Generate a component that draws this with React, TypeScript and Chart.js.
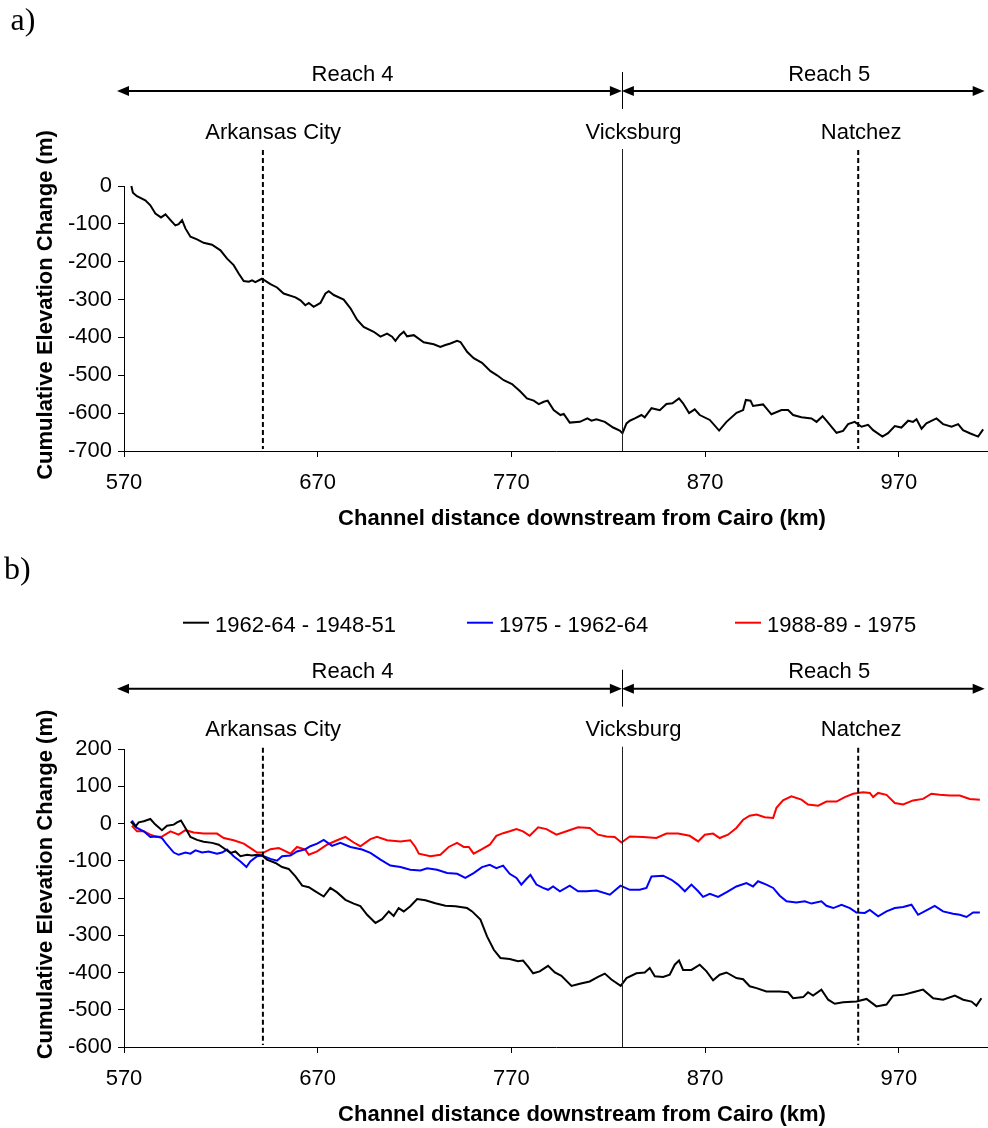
import React, { useEffect, useRef } from 'react';
import { Chart, registerables } from 'chart.js';

Chart.register(...registerables);

const SANS = "'Liberation Sans', Arial, sans-serif";
const SERIF = "'Liberation Serif', 'Times New Roman', serif";

// ---------- axes / annotations ----------
const X_TICKS = [570, 670, 770, 870, 970];
const X_MIN = 570;
const X_MAX = 1016;
const X_TITLE = 'Channel distance downstream from Cairo (km)';
const Y_TITLE = 'Cumulative Elevation Change (m)';

const TOWN_NAMES = ['Arkansas City', 'Vicksburg', 'Natchez'];
const TOWN_KM = [641.7, 827, 949];
const TOWN_LABEL_KM = [647, 833, 950.5];
const TOWN_DASHED = [true, false, true];

const REACH_NAMES = ['Reach 4', 'Reach 5'];
const REACH_BOUNDS_KM = [566.4, 827, 1014.3];
const REACH_LABEL_KM = [688, 934];

// ---------- panel a ----------
const kmA = [
  573.8, 574.6, 576.7, 581, 583.6, 586.2, 589.1, 591.4, 594, 596.5, 598.2, 600, 601.7, 604.3, 607.7,
  611.1, 615.4, 619.8, 623.2, 626.6, 629.2, 631.8, 634.4, 636.1, 637.8, 641.2, 645.6, 649, 652.4,
  658.5, 661.1, 663.6, 665.4, 667.9, 671.4, 674, 675.7, 678.3, 683.4, 686.9, 690.3, 693.7, 698.9,
  702.4, 705.8, 708.4, 710.1, 712.3, 714.4, 716.1, 719.6, 724.7, 729.9, 733.3, 735.9, 738.5, 741.9,
  743.7, 747.1, 750.5, 754.8, 759.2, 762.6, 766, 770.3, 774.6, 778, 781.5, 784.1, 786.7, 788.7,
  791.8, 795.3, 797, 800.1, 805.3, 809.2, 811.3, 813.9, 818.2, 822.5, 825.9, 827.3, 829.4, 831.1,
  833.7, 837.1, 838.8, 842.3, 846.6, 850, 853.1, 856.5, 858.6, 861.7, 864.6, 867.2, 872.4, 877.2,
  881, 886.2, 889.6, 891, 893.4, 894.7, 899.9, 904.2, 909.4, 912.8, 915.4, 919.7, 924.9, 927.5,
  930.6, 932.6, 937.8, 941.2, 943.8, 947.2, 950.7, 954.1, 956.7, 961.5, 964.4, 967.9, 971.3, 974.8,
  977.3, 979.1, 981.7, 984.2, 989.4, 992.8, 997.2, 1000.6, 1003.1, 1006.6, 1010.9, 1013.5,
];
const elevA = [
  0, -18, -27, -38, -51, -73, -83, -75, -90, -104, -101, -90, -112, -134, -141,
  -150, -155, -170, -192, -209, -231, -251, -253, -249, -254, -245, -259, -268, -284,
  -294, -302, -315, -309, -319, -309, -284, -278, -288, -300, -323, -353, -372, -385,
  -398, -390, -398, -409, -394, -385, -397, -394, -413, -418, -425, -420, -416, -409,
  -412, -438, -455, -467, -489, -500, -513, -523, -543, -561, -567, -576, -570, -567,
  -592, -605, -602, -625, -623, -614, -620, -616, -623, -638, -646, -653, -627, -620,
  -614, -605, -611, -587, -592, -576, -574, -561, -574, -600, -590, -605, -618, -646,
  -623, -599, -592, -565, -567, -581, -577, -603, -592, -592, -605, -611, -614, -623,
  -608, -620, -652, -647, -629, -623, -636, -631, -645, -662, -653, -634, -638, -620,
  -623, -616, -641, -627, -614, -629, -636, -629, -645, -653, -662, -643,
];

// ---------- panel b ----------
const LABEL_B1 = '1962-64 - 1948-51';
const LABEL_B2 = '1975 - 1962-64';
const LABEL_B3 = '1988-89 - 1975';

const kmB1 = [
  573.5, 575.9, 577.6, 580.2, 583.6, 586.2, 589.6, 592.2, 595.7, 597.4, 599.4, 601.7, 604.3, 607.7,
  611.1, 615.5, 618.9, 622.3, 625, 627.5, 630.1, 633.5, 636.1, 638.7, 641.3, 643.8, 648.2, 651.6,
  655, 658.5, 662, 665.4, 668.8, 673.1, 676.5, 680, 684.3, 688.6, 692, 695.5, 699.8, 703.2, 706.7,
  709.2, 711.8, 714.4, 717.8, 721.3, 725.6, 730.7, 735.9, 741.1, 747.1, 749.7, 754, 757.4, 760.9,
  764.3, 769.1, 773.4, 776, 778.6, 781.2, 784.6, 788.9, 792.4, 795.8, 801, 805.3, 810.4, 814.7,
  818.2, 821.6, 826.4, 829.4, 834.5, 838.8, 841.4, 844, 848.3, 851.7, 854.3, 856.5, 858.6, 862.9,
  867.2, 870.7, 874.1, 877.5, 881, 886.1, 889.6, 893, 896.5, 901.6, 908.5, 912.8, 915.4, 920.6,
  923.1, 925.7, 930, 933.5, 936.9, 941.2, 948.1, 953.3, 958.4, 963.6, 967, 972.2, 977.3, 982.5,
  987.7, 992.8, 998.9, 1003.2, 1007.5, 1010, 1012.6,
];
const b1 = [
  5, -8, 3, 6, 12, -3, -18, -6, -3, 3, 8, -12, -36, -44,
  -49, -52, -57, -69, -79, -75, -88, -84, -86, -84, -86, -97, -106, -117,
  -122, -142, -167, -171, -182, -196, -173, -185, -205, -215, -222, -245, -267, -257, -236,
  -248, -227, -236, -222, -203, -206, -214, -221, -222, -227, -236, -258, -303, -339,
  -361, -364, -370, -368, -384, -402, -397, -382, -400, -409, -436, -430, -424, -412,
  -403, -419, -436, -415, -402, -400, -388, -410, -412, -406, -379, -368, -393, -393,
  -379, -397, -421, -406, -400, -415, -418, -437, -442, -451, -451, -453, -469, -466,
  -453, -462, -446, -473, -484, -480, -478, -471, -491, -486, -462, -460, -453, -446,
  -469, -473, -462, -473, -478, -489, -469,
];

const kmB2 = [
  574.1, 576.7, 580.2, 583.6, 587.1, 589.6, 592.2, 595.7, 598.2, 601.7, 604.3, 606.9, 610.3, 613.7,
  618, 620.6, 623.2, 626.6, 630.1, 633.2, 635.2, 638.7, 641.3, 645.6, 649, 651.6, 655.9, 659.3,
  663.6, 666.2, 669.7, 673.1, 677.4, 681.7, 686.9, 692.9, 697.2, 702.4, 707.5, 712.7, 717.8, 723,
  726.5, 731.6, 736.8, 742, 746.2, 750.5, 754.8, 758.8, 762.2, 765.7, 769.1, 772.6, 775.1, 777.7,
  779.8, 782.9, 786.3, 788.9, 791.5, 795, 800.1, 804.4, 808.7, 813.9, 820.8, 826.3, 831.1, 836.2,
  839.7, 842.3, 848.3, 852.6, 856, 859.5, 862.9, 866.4, 868.9, 872.4, 876.7, 881.8, 886.1, 891.3,
  894.7, 897.3, 901.6, 905.1, 908.5, 912, 917.1, 921.4, 924.9, 930, 932.6, 936.1, 940.4, 944.7,
  948.1, 952.4, 955, 959.3, 963.6, 967.9, 972.2, 976.5, 979.9, 984.2, 988.5, 992.8, 998, 1001.4,
  1004.9, 1008.3, 1011.8,
];
const b2 = [
  8, -12, -21, -36, -35, -39, -57, -78, -84, -78, -81, -72, -78, -75,
  -81, -78, -70, -88, -102, -117, -102, -88, -86, -95, -100, -88, -86, -75,
  -69, -61, -54, -44, -60, -52, -63, -70, -79, -97, -113, -117, -124, -126,
  -120, -124, -133, -135, -146, -133, -117, -111, -120, -113, -135, -146, -164, -149,
  -138, -164, -173, -178, -169, -182, -167, -182, -182, -180, -191, -167, -178, -178,
  -173, -142, -140, -151, -164, -182, -164, -182, -197, -189, -197, -182, -169, -160,
  -169, -155, -164, -173, -194, -209, -212, -209, -215, -209, -221, -227, -218, -227,
  -239, -240, -232, -249, -236, -227, -224, -218, -245, -233, -221, -236, -242, -245,
  -251, -239, -239,
];

const kmB3 = [
  574.1, 576.7, 580.2, 583.6, 587.1, 589.6, 594, 598.2, 601.7, 606, 611.2, 618, 621.5, 626.6,
  631.8, 636.1, 638.7, 642.1, 645.6, 649.9, 652.5, 655.9, 659.3, 663.6, 665.4, 669.7, 674.8, 680,
  684.3, 688.6, 692, 697.2, 700.6, 705.8, 712.7, 717.8, 720.4, 722.2, 728.2, 733.3, 737.6, 741.9,
  745.4, 748, 750.5, 754.8, 758.8, 762.2, 765.7, 769.1, 772.6, 776, 779.4, 783.8, 788.1, 793.2,
  798.4, 804.4, 810.4, 814.7, 819, 823.3, 826.8, 831.1, 838, 844.8, 850, 856, 862, 866.4, 869.8,
  874.1, 877.5, 881.8, 886.1, 889.6, 893, 896.5, 900.8, 905.1, 906.8, 910.2, 914.5, 919.7, 923.1,
  928.3, 932.6, 937.8, 942.1, 946.4, 951.5, 955, 956.7, 959.3, 963.6, 967.9, 972.2, 977.3, 982.5,
  986.8, 991.1, 996.3, 1001.4, 1006.6, 1011.8,
];
const b3 = [
  -6, -21, -21, -30, -36, -35, -21, -30, -18, -24, -27, -27, -39, -45,
  -54, -69, -78, -78, -69, -66, -72, -81, -63, -70, -84, -75, -57, -45,
  -36, -51, -61, -42, -36, -45, -48, -45, -63, -81, -88, -84, -63, -52,
  -63, -63, -81, -69, -57, -33, -26, -21, -15, -21, -33, -10, -15, -30,
  -21, -10, -12, -30, -35, -36, -51, -35, -36, -39, -27, -27, -33, -48, -30,
  -27, -39, -30, -12, 10, 21, 24, 17, 15, 42, 62, 73, 64, 51,
  48, 59, 59, 71, 80, 84, 82, 71, 82, 77, 55, 51, 62, 66,
  80, 77, 75, 75, 66, 64,
];

// legend layout (pixel starts of each legend sample line)
const LEGEND_X = [183, 467, 735];

const pts = (xs: number[], ys: number[]) => xs.map((x, i) => ({ x, y: ys[i] }));

function head(ctx: CanvasRenderingContext2D, x: number, y: number, dir: number) {
  ctx.beginPath();
  ctx.moveTo(x, y);
  ctx.lineTo(x - dir * 12, y - 5);
  ctx.lineTo(x - dir * 12, y + 5);
  ctx.closePath();
  ctx.fill();
}

type PanelCfg = {
  panel: string;
  panelX: number;
  panelY: number;
  top: number;
  height: number;
  padTop: number;
  xAxisH: number;
  yMin: number;
  yMax: number;
  arrowY: number;
  legend: boolean;
  legendLineY?: number;
  legendBaseY?: number;
  datasets: any[];
};

function makeAnnot(c: PanelCfg) {
  return {
    id: 'annot' + c.panel.replace(')', ''),
    afterDatasetsDraw(chart: any) {
      const { ctx, chartArea: ca, scales } = chart;
      const px = (v: number) => scales.x.getPixelForValue(v);
      ctx.save();
      ctx.fillStyle = '#000';
      ctx.strokeStyle = '#000';

      // panel letter
      ctx.font = `32px ${SERIF}`;
      ctx.textAlign = 'left';
      ctx.textBaseline = 'alphabetic';
      ctx.fillText(c.panel, c.panelX, c.panelY);

      // reach arrows
      const ay = c.arrowY;
      ctx.font = `22px ${SANS}`;
      ctx.textAlign = 'center';
      for (let i = 0; i < REACH_NAMES.length; i++) {
        const x1 = px(REACH_BOUNDS_KM[i]);
        const x2 = px(REACH_BOUNDS_KM[i + 1]);
        ctx.lineWidth = 2;
        ctx.beginPath();
        ctx.moveTo(x1 + 6, ay);
        ctx.lineTo(x2 - 6, ay);
        ctx.stroke();
        head(ctx, x1, ay, -1);
        head(ctx, x2, ay, 1);
        ctx.fillText(REACH_NAMES[i], px(REACH_LABEL_KM[i]), ay - 10.5);
      }
      const dx = Math.round(px(REACH_BOUNDS_KM[1])) + 0.5;
      ctx.lineWidth = 1;
      ctx.beginPath();
      ctx.moveTo(dx, ay - 19);
      ctx.lineTo(dx, ay + 18);
      ctx.stroke();

      // towns
      for (let i = 0; i < TOWN_NAMES.length; i++) {
        ctx.fillText(TOWN_NAMES[i], px(TOWN_LABEL_KM[i]), ay + 47.5);
        ctx.beginPath();
        if (TOWN_DASHED[i]) {
          ctx.lineWidth = 2;
          ctx.setLineDash([5, 3]);
          const x = px(TOWN_KM[i]);
          ctx.moveTo(x, ay + 59);
          ctx.lineTo(x, ca.bottom - 2);
        } else {
          ctx.lineWidth = 1;
          ctx.strokeStyle = '#222';
          ctx.setLineDash([]);
          const x = Math.round(px(TOWN_KM[i])) + 0.5;
          ctx.moveTo(x, ay + 58);
          ctx.lineTo(x, ca.bottom);
        }
        ctx.stroke();
        ctx.setLineDash([]);
        ctx.strokeStyle = '#000';
      }

      // axis titles
      ctx.font = `bold 22px ${SANS}`;
      ctx.textAlign = 'center';
      ctx.fillText(X_TITLE, 582, ca.bottom + 74);
      ctx.save();
      ctx.translate(51.5, (ca.top + ca.bottom) / 2 - 13.5);
      ctx.rotate(-Math.PI / 2);
      ctx.fillText(Y_TITLE, 0, 0);
      ctx.restore();

      // legend
      if (c.legend) {
        ctx.font = `22px ${SANS}`;
        ctx.textAlign = 'left';
        chart.data.datasets.forEach((ds: any, i: number) => {
          const x = LEGEND_X[i];
          ctx.strokeStyle = ds.borderColor;
          ctx.lineWidth = 2;
          ctx.beginPath();
          ctx.moveTo(x, c.legendLineY);
          ctx.lineTo(x + 26, c.legendLineY);
          ctx.stroke();
          ctx.fillStyle = '#000';
          ctx.fillText(ds.label, x + 32, c.legendBaseY);
        });
      }
      ctx.restore();
    },
  };
}

function Panel({ c }: { c: PanelCfg }) {
  const ref = useRef<HTMLCanvasElement>(null);
  useEffect(() => {
    const tickFont = { family: SANS, size: 22 };
    const grid = { drawOnChartArea: false, drawTicks: true, tickLength: 6, color: '#000', lineWidth: 1 };
    const border = { display: true, color: '#000', width: 1 };
    const chart = new Chart(ref.current as HTMLCanvasElement, {
      type: 'line',
      data: { datasets: c.datasets },
      options: {
        responsive: false,
        animation: false,
        devicePixelRatio: 1,
        layout: { padding: { top: c.padTop, left: 0, right: 0, bottom: 0 } },
        plugins: { legend: { display: false }, tooltip: { enabled: false } },
        elements: { point: { radius: 0 }, line: { tension: 0 } },
        scales: {
          x: {
            type: 'linear',
            min: X_MIN,
            max: X_MAX,
            afterBuildTicks: (s: any) => {
              s.ticks = X_TICKS.map((v) => ({ value: v }));
            },
            afterFit: (s: any) => {
              s.height = c.xAxisH;
            },
            grid,
            border,
            ticks: {
              color: '#000',
              font: tickFont,
              padding: 13,
              maxRotation: 0,
              autoSkip: false,
              callback: (v: any) => String(v),
            },
          },
          y: {
            type: 'linear',
            min: c.yMin,
            max: c.yMax,
            afterFit: (s: any) => {
              s.width = 124;
            },
            grid,
            border,
            ticks: {
              stepSize: 100,
              color: '#000',
              font: tickFont,
              padding: 6,
              callback: (v: any) => String(v),
            },
          },
        },
      } as any,
      plugins: [makeAnnot(c)],
    });
    return () => chart.destroy();
  }, []);
  return (
    <canvas
      ref={ref}
      width={988}
      height={c.height}
      style={{ position: 'absolute', left: 0, top: c.top, display: 'block' }}
    />
  );
}

const lineDs = (label: string, data: any[], color: string) => ({
  label,
  data,
  borderColor: color,
  backgroundColor: color,
  borderWidth: 2,
  pointRadius: 0,
  fill: false,
  clip: false,
});

export default function App() {
  const panelA: PanelCfg = {
    panel: 'a)',
    panelX: 10.5,
    panelY: 30,
    top: 0,
    height: 540,
    padTop: 186,
    xAxisH: 89,
    yMin: -700,
    yMax: 0,
    arrowY: 91,
    legend: false,
    datasets: [lineDs('Cumulative', pts(kmA, elevA), '#000000')],
  };
  const panelB: PanelCfg = {
    panel: 'b)',
    panelX: 4,
    panelY: 39.3,
    top: 540,
    height: 588,
    padTop: 209,
    xAxisH: 81,
    yMin: -600,
    yMax: 200,
    arrowY: 148.7,
    legend: true,
    legendLineY: 82.7,
    legendBaseY: 92.3,
    datasets: [
      lineDs(LABEL_B1, pts(kmB1, b1), '#000000'),
      lineDs(LABEL_B2, pts(kmB2, b2), '#0000FF'),
      lineDs(LABEL_B3, pts(kmB3, b3), '#FF0000'),
    ],
  };
  return (
    <div
      style={{
        position: 'fixed',
        left: 0,
        top: 0,
        width: 988,
        height: 1128,
        overflow: 'hidden',
        background: '#fff',
      }}
    >
      <Panel c={panelA} />
      <Panel c={panelB} />
    </div>
  );
}
